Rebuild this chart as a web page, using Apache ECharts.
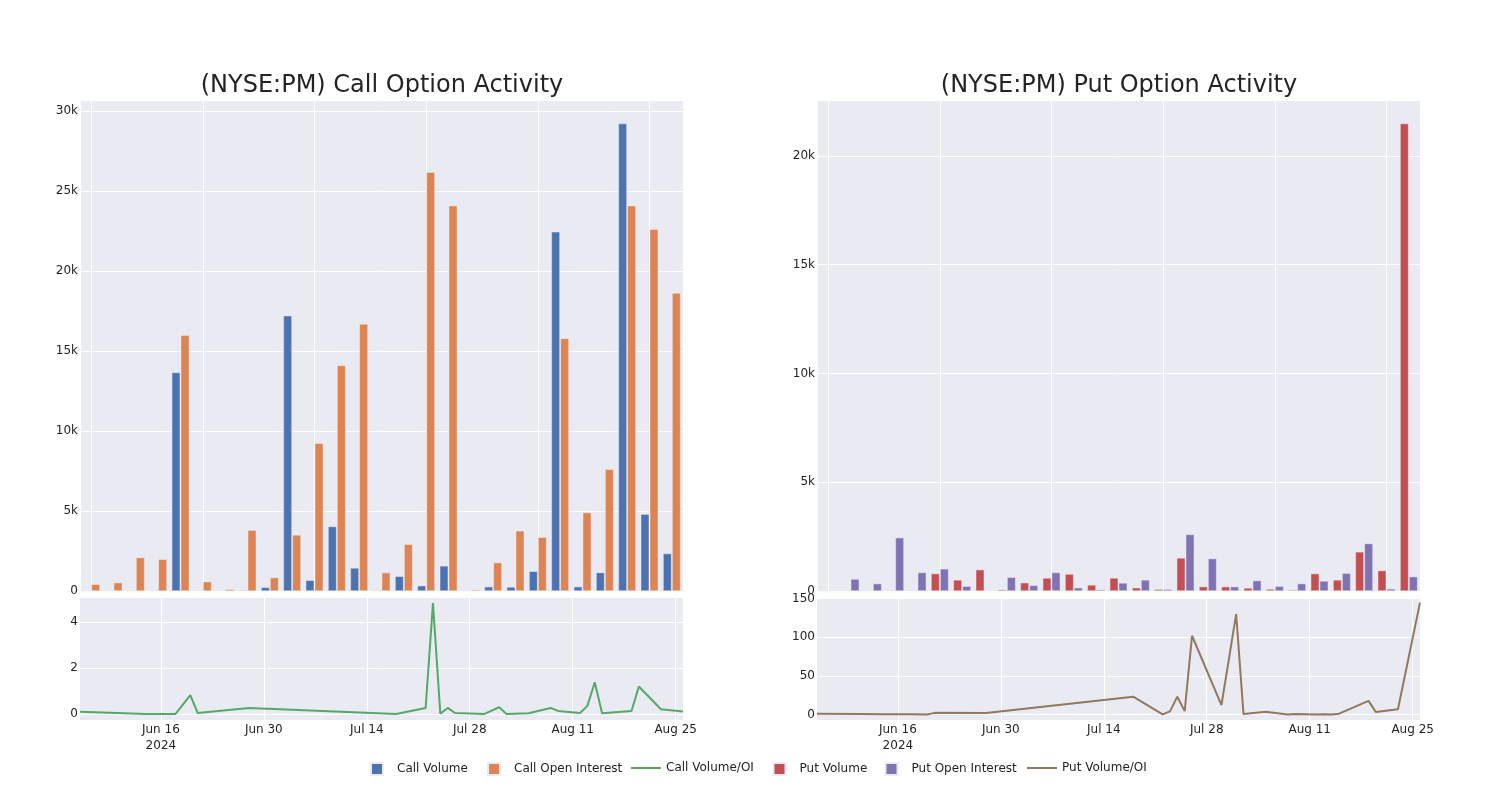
<!DOCTYPE html>
<html><head><meta charset="utf-8">
<script src="https://cdn.jsdelivr.net/npm/echarts@6/dist/echarts.min.js"></script>
<style>html,body{margin:0;padding:0;background:#fff}#c{width:1500px;height:800px}</style>
</head><body><div id="c"></div>
<script>
// ---- data ----
const categories = ['2024-06-05','2024-06-11','2024-06-14','2024-06-18','2024-06-20','2024-06-21','2024-06-28',
  '2024-07-18','2024-07-22','2024-07-23','2024-07-24','2024-07-25','2024-07-26','2024-07-30',
  '2024-08-01','2024-08-02','2024-08-05','2024-08-08','2024-08-09','2024-08-12','2024-08-13',
  '2024-08-14','2024-08-15','2024-08-19','2024-08-20','2024-08-23','2024-08-26'];
const callVolume = [20, 20, 0, 20, 13650, 25, 25, 50, 230, 17200, 670, 4030, 1440, 20, 920, 330, 1570, 20, 270, 250, 1230, 22440, 270, 1150, 29200, 4800, 2340];
const callOpenInterest = [420, 520, 2090, 1980, 15970, 580, 100, 3800, 840, 3500, 9230, 14090, 16680, 1150, 2920, 26160, 24070, 80, 1770, 3760, 3360, 15780, 4900, 7600, 24070, 22600, 18620];
const putVolume = [20, 20, 20, 30, 30, 800, 510, 980, 60, 380, 600, 780, 280, 600, 150, 80, 1520, 200, 200, 140, 90, 50, 800, 510, 1800, 940, 21480];
const putOpenInterest = [20, 550, 340, 2450, 850, 1020, 220, 20, 630, 260, 850, 150, 60, 370, 510, 80, 2600, 1490, 200, 480, 220, 340, 460, 820, 2180, 100, 660];
const callVolOI = [0.09, 0.03, 0, 0, 0.82, 0.04, 0.26, 0, 0.26, 4.82, 0.01, 0.26, 0.04, 0, 0.29, 0, 0.03, 0.26, 0.13, 0.04, 0.35, 1.38, 0.03, 0.13, 1.19, 0.2, 0.1];
const putVolOI = [0.8, 0.5, 0.3, 0.1, 0, 2, 1.8, 23, 0, 4, 23, 4.3, 102, 12, 130, 0.4, 3.5, 0, 0.4, 0, 0.2, 0, 1, 17.5, 3, 6.6, 145];
const dateTickLabels = ['2024-06-16','2024-06-30','2024-07-14','2024-07-28','2024-08-11','2024-08-25'];
const titles = ['(NYSE:PM) Call Option Activity', '(NYSE:PM) Put Option Activity'];

// ---- chart ----
const FONT = 'DejaVu Sans';
const TXT = 'rgb(36,36,36)';
const BG = '#EAEAF2';
const C = {cv:'#4C72B0', coi:'#DD8452', cr:'#55A868', pv:'#C44E52', poi:'#8172B3', pr:'#937860'};
const MON = ['Jan','Feb','Mar','Apr','May','Jun','Jul','Aug','Sep','Oct','Nov','Dec'];
const toTs = s => { const p = s.split('-').map(Number); return new Date(p[0], p[1]-1, p[2]).getTime(); };
const tickTs = dateTickLabels.map(toTs);
const tMin = toTs(categories[0]);
const tMax = toTs(categories[categories.length-1]);

const kFmt = step => v => (Math.abs(v) < 1e-9 ? '0' : (Math.abs(v % step) < 1e-6 ? (v/1000)+'k' : ''));
const numFmt = step => v => (Math.abs(v % step) < 1e-6 ? String(Math.round(v)) : '');
const dateFmt = v => {
  const d = new Date(v);
  const s = MON[d.getMonth()] + ' ' + d.getDate();
  return Math.abs(v - tickTs[0]) < 1000 ? s + '\n' + d.getFullYear() : s;
};

const lineData = arr => categories.map((d, i) => [toTs(d), arr[i]]);
const callMax = Math.max(...callVolume, ...callOpenInterest) * 1.0505;
const putMax = Math.max(...putVolume, ...putOpenInterest) * 1.0505;
const cMin = Math.min(...callVolOI), cMx = Math.max(...callVolOI);
const pMin = Math.min(...putVolOI), pMx = Math.max(...putVolOI);

const gridStyle = {show:true, backgroundColor:BG, borderWidth:0};
const splitW = {show:true, lineStyle:{color:'#ffffff', width:1}};
const lab = {color:TXT, fontFamily:FONT, fontSize:12};

function catAxis(g){ return {type:'category', gridIndex:g, data:categories, boundaryGap:true,
  axisLabel:{show:false}, axisTick:{show:false}, axisLine:{show:false}, splitLine:{show:false}}; }
function overlayAxis(g){ return {type:'value', gridIndex:g, position:'top', min:-0.5, max:categories.length-0.5,
  axisLabel:{show:false}, axisTick:{show:false}, axisLine:{show:false}, splitLine:splitW}; }
function dateAxis(g){ return {type:'value', gridIndex:g, min:tMin, max:tMax, scale:true,
  axisLine:{show:false}, axisTick:{show:false, customValues:tickTs},
  axisLabel:Object.assign({customValues:tickTs, formatter:dateFmt, margin:2, lineHeight:16}, lab),
  splitLine:splitW}; }
function yAxis(g, min, max, split, fmt){ return {type:'value', gridIndex:g, min:min, max:max, splitNumber:split,
  axisLine:{show:false}, axisTick:{show:false},
  axisLabel:Object.assign({formatter:fmt, margin:2, showMinLabel:min===0, showMaxLabel:false}, lab),
  splitLine:splitW}; }

const barStyle = col => ({color:col, borderColor:BG, borderWidth:0.5});

function legend(name, left, isLine){
  return {data:[name], left:left - 5, top:757, orient:'horizontal', selectedMode:false,
    itemWidth:isLine?30:12, itemHeight:isLine?2:12, icon:'rect',
    textStyle:{color:TXT, fontFamily:FONT, fontSize:12, padding:isLine?[0,0,0,0]:[0,0,0,9]}};
}

const option = {
  animation:false,
  backgroundColor:'#ffffff',
  title:[
    {text:titles[0], left:377, top:69, textAlign:'center', textStyle:{fontFamily:FONT, fontSize:24, fontWeight:'normal', color:TXT}},
    {text:titles[1], left:1114, top:69, textAlign:'center', textStyle:{fontFamily:FONT, fontSize:24, fontWeight:'normal', color:TXT}}
  ],
  legend:[
    legend('Call Volume', 370, false),
    legend('Call Open Interest', 487, false),
    legend('Call Volume/OI', 631, true),
    legend('Put Volume', 772.5, false),
    legend('Put Open Interest', 884.5, false),
    legend('Put Volume/OI', 1027, true)
  ],
  grid:[
    Object.assign({left:80, top:100, width:603, height:491}, gridStyle),
    Object.assign({left:80, top:597, width:603, height:123}, gridStyle),
    Object.assign({left:817, top:100, width:603, height:491}, gridStyle),
    Object.assign({left:817, top:597, width:603, height:123}, gridStyle)
  ],
  xAxis:[catAxis(0), overlayAxis(0), dateAxis(1), catAxis(2), overlayAxis(2), dateAxis(3)],
  yAxis:[
    yAxis(0, 0, callMax, 5, kFmt(5000)),
    yAxis(1, cMin - 0.055*(cMx-cMin), cMx + 0.055*(cMx-cMin), 3, numFmt(2)),
    yAxis(2, 0, putMax, 5, kFmt(5000)),
    yAxis(3, pMin - 0.05*(pMx-pMin), pMx + 0.05*(pMx-pMin), 3, numFmt(50))
  ],
  series:[
    {name:'Call Volume', type:'bar', xAxisIndex:0, yAxisIndex:0, data:callVolume, barWidth:8.5, barGap:'6%', itemStyle:barStyle(C.cv)},
    {name:'Call Open Interest', type:'bar', xAxisIndex:0, yAxisIndex:0, data:callOpenInterest, barWidth:8.5, barGap:'6%', itemStyle:barStyle(C.coi)},
    {name:'Call Volume/OI', type:'line', xAxisIndex:2, yAxisIndex:1, data:lineData(callVolOI), showSymbol:false, symbol:'none', lineStyle:{color:C.cr, width:2}, itemStyle:{color:C.cr}},
    {name:'Put Volume', type:'bar', xAxisIndex:3, yAxisIndex:2, data:putVolume, barWidth:8.5, barGap:'6%', itemStyle:barStyle(C.pv)},
    {name:'Put Open Interest', type:'bar', xAxisIndex:3, yAxisIndex:2, data:putOpenInterest, barWidth:8.5, barGap:'6%', itemStyle:barStyle(C.poi)},
    {name:'Put Volume/OI', type:'line', xAxisIndex:5, yAxisIndex:3, data:lineData(putVolOI), showSymbol:false, symbol:'none', lineStyle:{color:C.pr, width:2}, itemStyle:{color:C.pr}}
  ]
};
const chart = echarts.init(document.getElementById('c'), null, {renderer:'canvas'});
chart.setOption(option);
</script>
</body></html>
